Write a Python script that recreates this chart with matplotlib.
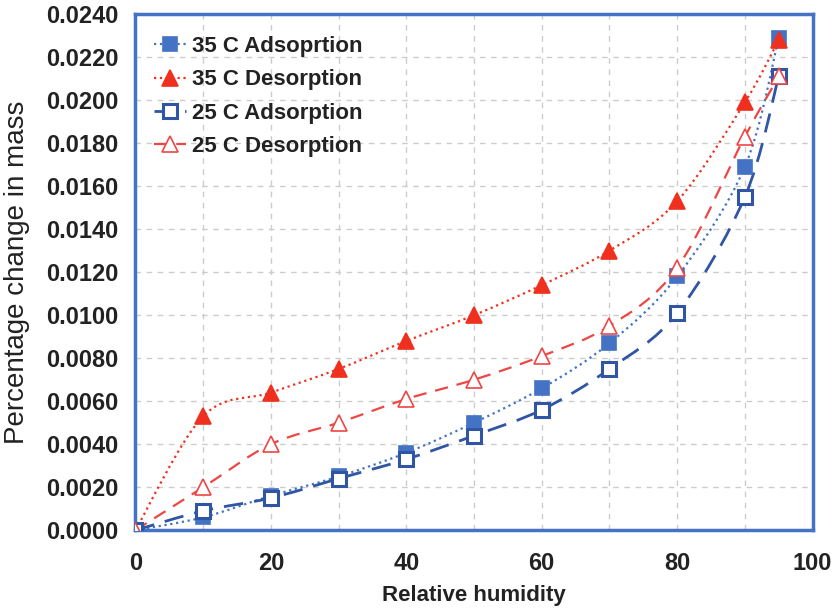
import numpy as np
import matplotlib.pyplot as plt
from matplotlib.path import Path
from matplotlib.patches import PathPatch
from matplotlib.ticker import FormatStrFormatter

plt.rcParams['font.family'] = ['Liberation Sans', 'DejaVu Sans']

# ==============================================
# Data
# ==============================================
rh = [0, 10, 20, 30, 40, 50, 60, 70, 80, 90, 95]
ads_35 = [0.0, 0.0006, 0.0016, 0.0025, 0.0036, 0.0050, 0.0066, 0.0087, 0.0118, 0.0169, 0.0229]
des_35 = [0.0, 0.0053, 0.0064, 0.0075, 0.0088, 0.0100, 0.0114, 0.0130, 0.0153, 0.0199, 0.0228]
ads_25 = [0.0, 0.0009, 0.0015, 0.0024, 0.0033, 0.0044, 0.0056, 0.0075, 0.0101, 0.0155, 0.0211]
des_25 = [0.0, 0.0020, 0.0040, 0.0050, 0.0061, 0.0070, 0.0081, 0.0095, 0.0122, 0.0183, 0.0211]

BLUE = '#4472C4'
DARKBLUE = '#2F55A4'
RED = '#F0301E'
LIGHTRED = '#EE4545'
TXT = '#222222'


def smooth_path(x, y):
    # Excel-style smoothed line: cubic bezier segments through the points
    x = np.asarray(x, float)
    y = np.asarray(y, float)
    n = len(x)
    verts = [(x[0], y[0])]
    codes = [Path.MOVETO]
    for i in range(n - 1):
        p0 = i - 1 if i > 0 else i
        p3 = i + 2 if i + 2 < n else i + 1
        c1 = (x[i] + (x[i + 1] - x[p0]) / 6, y[i] + (y[i + 1] - y[p0]) / 6)
        c2 = (x[i + 1] - (x[p3] - x[i]) / 6, y[i + 1] - (y[p3] - y[i]) / 6)
        verts += [c1, c2, (x[i + 1], y[i + 1])]
        codes += [Path.CURVE4] * 3
    return Path(verts, codes)


fig = plt.figure(figsize=(8.36, 6.13), dpi=100)
ax = fig.add_axes([0.162, 0.135, 0.81, 0.842])

series = [
    (ads_35, '35 C Adsoprtion', BLUE, ':', 's', BLUE, 1.6),
    (des_35, '35 C Desorption', RED, ':', '^', RED, 1.6),
    (ads_25, '25 C Adsorption', DARKBLUE, (0, (7, 4)), 's', 'white', 2.0),
    (des_25, '25 C Desorption', LIGHTRED, (0, (6, 4)), '^', 'white', 1.6),
]

for vals, label, col, ls, mk, face, lw in series:
    ax.add_patch(PathPatch(smooth_path(rh, vals), fill=False, edgecolor=col,
                           linestyle=ls, linewidth=lw, zorder=3))
    mew = 2.2 if (face == 'white' and mk == 's') else 1.2
    ms = 10 if mk == 's' else 11
    ax.plot(rh, vals, linestyle='none', marker=mk, markersize=ms,
            markerfacecolor=face, markeredgecolor=col, markeredgewidth=mew, zorder=4)
    # legend proxy
    ax.plot([], [], linestyle=ls, color=col, linewidth=lw, marker=mk, markersize=ms,
            markerfacecolor=face, markeredgecolor=col, markeredgewidth=mew, label=label)

ax.set_xlim(0, 100)
ax.set_ylim(0, 0.024)
ax.set_xticks(np.arange(0, 101, 20))
ax.set_yticks(np.arange(0, 0.02401, 0.002))
ax.yaxis.set_major_formatter(FormatStrFormatter('%.4f'))
ax.set_xticks(np.arange(0, 101, 10), minor=True)

ax.grid(True, which='both', color='#CCCCCC', linestyle=(0, (4, 4)), linewidth=1.0)
ax.tick_params(which='both', length=0)
ax.tick_params(axis='x', labelsize=17, pad=16)
ax.tick_params(axis='y', labelsize=17, pad=12)
for lab in ax.get_xticklabels() + ax.get_yticklabels():
    lab.set_fontweight('bold')
    lab.set_color(TXT)

for sp in ax.spines.values():
    sp.set_color(BLUE)
    sp.set_linewidth(2.5)

ax.set_xlabel('Relative humidity', fontsize=16, fontweight='bold', color=TXT, labelpad=7)
ax.set_ylabel('Percentage change in mass', fontsize=20, color=TXT)
ax.yaxis.set_label_coords(-0.155, 0.5)

leg = ax.legend(loc='upper left', frameon=False, prop={'weight': 'bold', 'size': 16},
                handlelength=1.4, handletextpad=0.3, labelspacing=0.56,
                borderaxespad=0.0, bbox_to_anchor=(0.015, 0.975))
for t in leg.get_texts():
    t.set_color(TXT)

fig.savefig('out.png', dpi=100)
